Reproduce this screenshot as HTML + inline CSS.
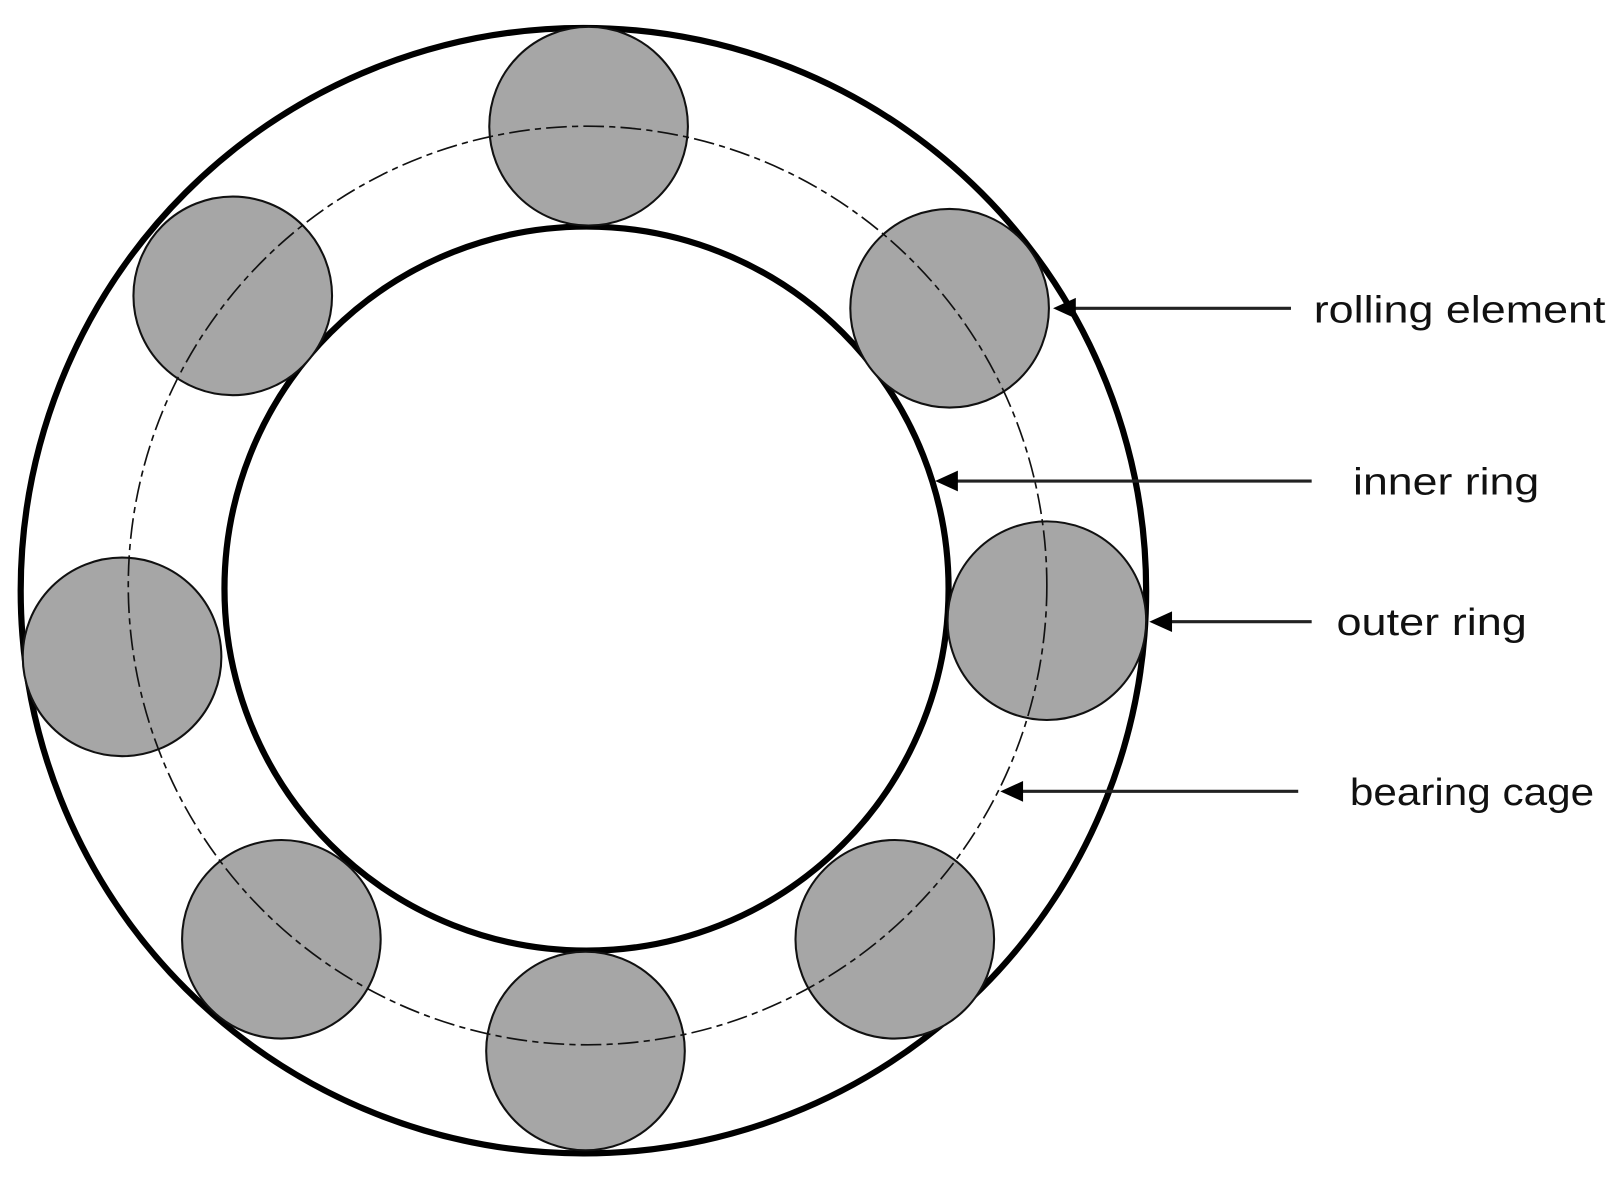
<!DOCTYPE html>
<html><head><meta charset="utf-8"><style>
html,body{margin:0;padding:0;background:#fff;width:1622px;height:1186px;overflow:hidden}
svg{display:block}
text{font-family:"Liberation Sans",sans-serif;font-size:37px;fill:#111}
</style></head><body>
<svg width="1622" height="1186" viewBox="0 0 1568 1146.5" preserveAspectRatio="none">
<circle cx="564" cy="571" r="544" fill="none" stroke="#000" stroke-width="6"/>
<circle cx="567" cy="569" r="350" fill="none" stroke="#000" stroke-width="6"/>
<g fill="#a6a6a6" stroke="#111" stroke-width="2">
<circle cx="569" cy="122" r="96"/>
<circle cx="918" cy="298" r="96"/>
<circle cx="1012" cy="600" r="96"/>
<circle cx="865" cy="908" r="96"/>
<circle cx="566" cy="1016" r="96"/>
<circle cx="272" cy="908" r="96"/>
<circle cx="118" cy="635" r="96"/>
<circle cx="225" cy="286" r="96"/>
</g>
<circle cx="568" cy="566" r="444" fill="none" stroke="#111" stroke-width="1.6" stroke-dasharray="20 5 6 5"/>
<g stroke="#222" stroke-width="3">
<line x1="1248" y1="298" x2="1034" y2="298"/>
<line x1="1268" y1="465" x2="920" y2="465"/>
<line x1="1268" y1="601" x2="1126" y2="601"/>
<line x1="1255" y1="765" x2="982" y2="765"/>
</g>
<g fill="#000">
<path d="M1018,298 L1040,288 L1040,308Z"/>
<path d="M904,465 L926,455 L926,475Z"/>
<path d="M1111,601 L1133,591 L1133,611Z"/>
<path d="M967,765 L989,755 L989,775Z"/>
</g>
<text x="1270" y="312" textLength="282" lengthAdjust="spacingAndGlyphs">rolling element</text>
<text x="1308" y="478" textLength="180" lengthAdjust="spacingAndGlyphs">inner ring</text>
<text x="1292" y="614" textLength="184" lengthAdjust="spacingAndGlyphs">outer ring</text>
<text x="1305" y="778" textLength="236" lengthAdjust="spacingAndGlyphs">bearing cage</text>
</svg>
</body></html>
